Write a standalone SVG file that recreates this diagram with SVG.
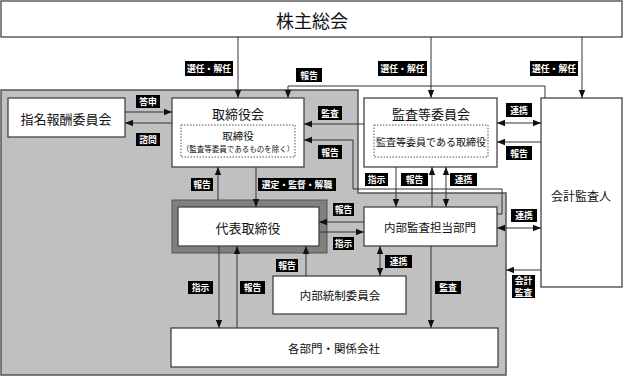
<svg xmlns="http://www.w3.org/2000/svg" width="624" height="377" viewBox="0 0 624 377">
<style>
.box{fill:#fff;stroke:#444;stroke-width:1.3}
.dot{fill:none;stroke:#555;stroke-width:1;stroke-dasharray:1.5 1.5}
.t{font-family:"Noto Sans CJK JP","Noto Sans",sans-serif;fill:#111;text-anchor:middle;dominant-baseline:central}
.lb{fill:#000}
.lt{font-family:"Noto Sans CJK JP","Noto Sans",sans-serif;fill:#fff;font-size:8.8px;font-weight:bold;text-anchor:middle;dominant-baseline:central}
.c{fill:none;stroke:#333;stroke-width:1}
</style>
<defs>
<marker id="a" markerUnits="userSpaceOnUse" markerWidth="8" markerHeight="8" viewBox="0 0 8 8" refX="8" refY="4" orient="auto-start-reverse"><path d="M0 0.8L8 4L0 7.2Z" fill="#111"/></marker>
</defs>
<rect width="624" height="377" fill="#fff"/>
<polygon id="gray-region" points="1,90 358,90 358,193 506,193 506,375 1,375" fill="#c0c0c0" stroke="#555" stroke-width="1.5"/>

<g id="n-kabunushi"><rect class="box" x="1" y="1" width="621" height="36"/><text class="t" x="312" y="20" font-size="18">株主総会</text></g>
<g id="n-shimei"><rect class="box" x="8" y="98" width="117" height="39"/><text class="t" x="66" y="118" font-size="13">指名報酬委員会</text></g>
<g id="n-torishimariyakukai"><rect class="box" x="172" y="98" width="132" height="69"/><text class="t" x="238" y="113" font-size="13">取締役会</text>
<rect class="dot" x="181" y="125" width="114" height="32"/><text class="t" x="238" y="135" font-size="10.5">取締役</text><text class="t" x="238" y="148" font-size="7.5">（監査等委員であるものを除く）</text></g>
<g id="n-kansa"><rect class="box" x="364" y="98" width="133" height="69"/><text class="t" x="431" y="113" font-size="13">監査等委員会</text>
<rect class="dot" x="374" y="125" width="114" height="32"/><text class="t" x="431" y="141" font-size="10">監査等委員である取締役</text></g>
<g id="n-kaikei"><rect class="box" x="541" y="98" width="81" height="189"/><text class="t" x="581" y="195" font-size="12">会計監査人</text></g>
<g id="n-daihyo"><rect x="172" y="200" width="155" height="53" fill="#808080" stroke="#555" stroke-width="1"/><rect class="box" x="178" y="207" width="141" height="39"/><text class="t" x="248" y="227" font-size="13">代表取締役</text></g>
<g id="n-naibukansa"><rect class="box" x="364" y="207" width="133" height="39"/><text class="t" x="430" y="227" font-size="11.5">内部監査担当部門</text></g>
<g id="n-naibutosei"><rect class="box" x="273" y="276" width="133" height="38"/><text class="t" x="340" y="295" font-size="11.5">内部統制委員会</text></g>
<g id="n-kakubumon"><rect class="box" x="171" y="328" width="327" height="39"/><text class="t" x="334" y="348" font-size="11.5">各部門・関係会社</text></g>

<g id="connectors">
<path class="c" d="M238 37V98" marker-end="url(#a)"/>
<path class="c" d="M431 37V98" marker-end="url(#a)"/>
<path class="c" d="M582 37V98" marker-end="url(#a)"/>
<path class="c" d="M545 98V86H288V98" marker-end="url(#a)"/>
<path class="c" d="M125 112H172" marker-end="url(#a)"/>
<path class="c" d="M172 123H125" marker-end="url(#a)"/>
<path class="c" d="M364 124H304" marker-end="url(#a)"/>
<path class="c" d="M497 214H502V189H353V140H304" marker-end="url(#a)"/>
<path class="c" d="M497 123H541" marker-start="url(#a)" marker-end="url(#a)"/>
<path class="c" d="M541 142H497" marker-end="url(#a)"/>
<path class="c" d="M218 200V167" marker-end="url(#a)"/>
<path class="c" d="M256 167V207" marker-end="url(#a)"/>
<path class="c" d="M396 167V207" marker-end="url(#a)"/>
<path class="c" d="M432 207V167" marker-end="url(#a)"/>
<path class="c" d="M446 167V207" marker-start="url(#a)" marker-end="url(#a)"/>
<path class="c" d="M364 222H319" marker-end="url(#a)"/>
<path class="c" d="M319 232H364" marker-end="url(#a)"/>
<path class="c" d="M497 228H541" marker-start="url(#a)" marker-end="url(#a)"/>
<path class="c" d="M541 270H506" marker-end="url(#a)"/>
<path class="c" d="M219 246V328" marker-end="url(#a)"/>
<path class="c" d="M237 328V246" marker-end="url(#a)"/>
<path class="c" d="M306 276V246" marker-end="url(#a)"/>
<path class="c" d="M380 246V276" marker-start="url(#a)" marker-end="url(#a)"/>
<path class="c" d="M431 246V328" marker-end="url(#a)"/>
</g>

<g id="labels">
<rect class="lb" x="185" y="61" width="48" height="15"/><text class="lt" x="209" y="68.5">選任・解任</text>
<rect class="lb" x="378" y="61" width="49" height="15"/><text class="lt" x="402.5" y="68.5">選任・解任</text>
<rect class="lb" x="530" y="61" width="48" height="15"/><text class="lt" x="554" y="68.5">選任・解任</text>
<rect class="lb" x="296" y="68" width="26" height="14"/><text class="lt" x="309" y="75">報告</text>
<rect class="lb" x="136" y="95" width="24" height="13"/><text class="lt" x="148" y="101.5">答申</text>
<rect class="lb" x="136" y="133" width="24" height="13"/><text class="lt" x="148" y="139.5">諮問</text>
<rect class="lb" x="318" y="106" width="24" height="14"/><text class="lt" x="330" y="113">監査</text>
<rect class="lb" x="318" y="145" width="24" height="14"/><text class="lt" x="330" y="152">報告</text>
<rect class="lb" x="506" y="103" width="26" height="14"/><text class="lt" x="519" y="110">連携</text>
<rect class="lb" x="506" y="146" width="26" height="14"/><text class="lt" x="519" y="153">報告</text>
<rect class="lb" x="365" y="173" width="23" height="13"/><text class="lt" x="376.5" y="179.5">指示</text>
<rect class="lb" x="401" y="173" width="27" height="13"/><text class="lt" x="414.5" y="179.5">報告</text>
<rect class="lb" x="450" y="173" width="27" height="13"/><text class="lt" x="463.5" y="179.5">連携</text>
<rect class="lb" x="191" y="178" width="22" height="13"/><text class="lt" x="202" y="184.5">報告</text>
<rect class="lb" x="258" y="178" width="78" height="13"/><text class="lt" x="297" y="184.5">選定・監督・解職</text>
<rect class="lb" x="333" y="203" width="21" height="13"/><text class="lt" x="343.5" y="209.5">報告</text>
<rect class="lb" x="333" y="237" width="21" height="13"/><text class="lt" x="343.5" y="243.5">指示</text>
<rect class="lb" x="511" y="209" width="26" height="13"/><text class="lt" x="524" y="215.5">連携</text>
<rect class="lb" x="512" y="275" width="23" height="23"/><text class="lt" x="523.5" y="280.5" font-size="8.5">会計</text><text class="lt" x="523.5" y="292.5" font-size="8.5">監査</text>
<rect class="lb" x="276" y="259" width="22" height="13"/><text class="lt" x="287" y="265.5">報告</text>
<rect class="lb" x="385" y="255" width="27" height="13"/><text class="lt" x="398.5" y="261.5">連携</text>
<rect class="lb" x="188" y="281" width="25" height="13"/><text class="lt" x="200.5" y="287.5">指示</text>
<rect class="lb" x="240" y="281" width="25" height="13"/><text class="lt" x="252.5" y="287.5">報告</text>
<rect class="lb" x="435" y="281" width="26" height="13"/><text class="lt" x="448" y="287.5">監査</text>
</g>
</svg>
